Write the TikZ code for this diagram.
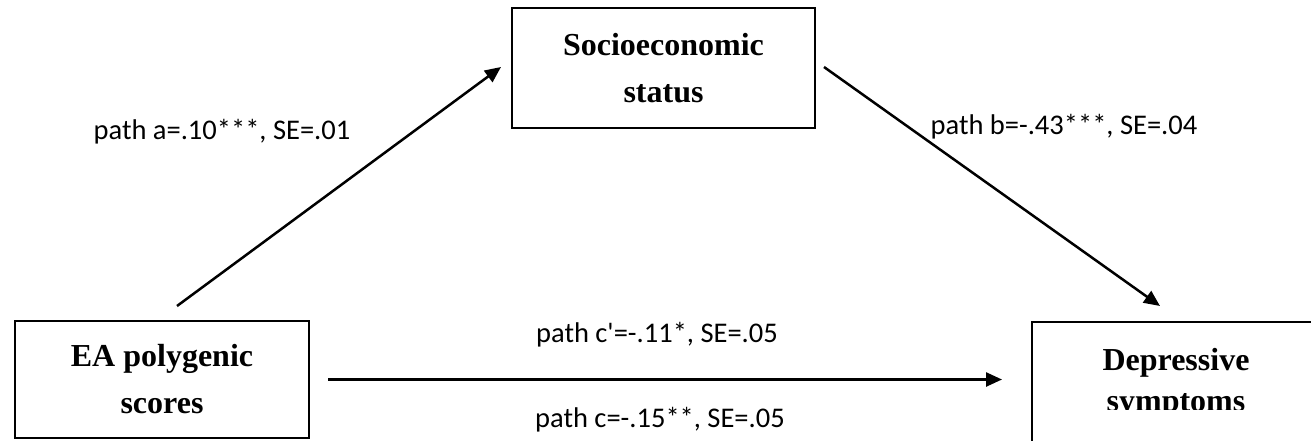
\documentclass[tikz,border=0pt]{standalone}
\usepackage{fontspec}
\setmainfont{Liberation Serif}
\newfontfamily\lblfont{Carlito}
\usetikzlibrary{arrows.meta}
\tikzset{varbox/.style={draw,line width=2pt,inner sep=0pt,minimum width=#1,minimum height=120pt,align=center,font=\fontsize{32}{47}\selectfont\bfseries},
  pathlbl/.style={font=\lblfont\fontsize{28.5}{32}\selectfont,inner sep=0pt},
  patharr/.style={line width=2.5pt,-{Triangle[length=16pt,width=14pt]}}}

\begin{document}
\begin{tikzpicture}[x=1pt,y=1pt]
\clip (0,0) rectangle (1311,440);
\node[varbox=294pt,minimum height=117pt] (ea) at (162,60.5){EA polygenic\\scores};
\node[varbox=303pt] (ses) at (663.5,372){Socioeconomic\\status};
\node[varbox=288pt] (dep) at (1176,58){};
\begin{scope}\clip (1034,31) rectangle (1311,116);
\node[varbox=10pt,draw=none,minimum height=0pt,anchor=base,font=\fontsize{32}{41}\selectfont\bfseries] (deptxt) at (1176,29){Depressive\\symptoms};\end{scope}
\draw[patharr] ([xshift=15pt,yshift=14pt]ea.north)--([xshift=-10pt,yshift=1pt]ses.west);
\draw[patharr] ([xshift=8pt,yshift=1pt]ses.east)--([xshift=-16pt,yshift=15pt]dep.north);
\draw[patharr] ([xshift=18pt]ea.east)--([xshift=-29pt]ea.east -| dep.west);
\node[pathlbl] (la) at (222,308){path a=.10***, SE=.01};
\node[pathlbl] (lb) at (1064,313){path b=-.43***, SE=.04};
\node[pathlbl] (lcd) at (657,105){path c'=-.11*, SE=.05};
\node[pathlbl] (lc) at (660,20){path c=-.15**, SE=.05};
\end{tikzpicture}
\end{document}
